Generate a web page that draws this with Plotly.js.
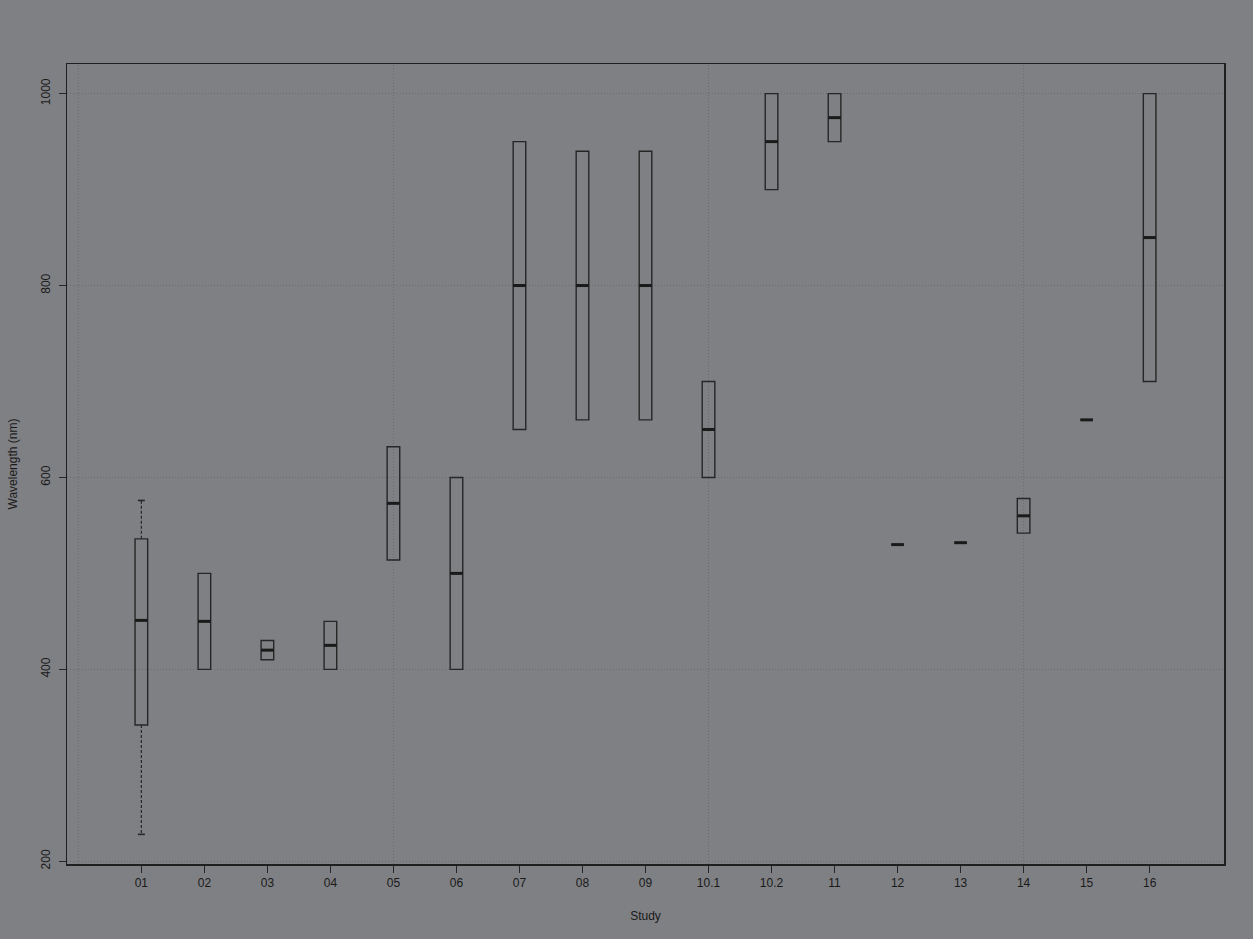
<!DOCTYPE html>
<html>
<head>
<meta charset="utf-8">
<script src="https://cdn.plot.ly/plotly-3.0.1.min.js"></script>
<style>
html,body{margin:0;padding:0;background:#7f8084;}
#chart{width:1253px;height:939px;}
</style>
</head>
<body>
<div id="chart"></div>
<script>
// Study categories
var studies = ["01","02","03","04","05","06","07","08","09","10.1","10.2","11","12","13","14","15","16"];
// Box statistics (nm)
var q1Vals     = [342, 400, 410, 400, 514, 400, 650, 660, 660, 600, 900, 950, 530, 532, 542, 660, 700];
var medianVals = [451, 450, 420, 425, 573, 500, 800, 800, 800, 650, 950, 975, 530, 532, 560, 660, 850];
var q3Vals     = [536, 500, 430, 450, 632, 600, 950, 940, 940, 700, 1000, 1000, 530, 532, 578, 660, 1000];
// Whisker ends (null = no whisker)
var whiskerLow  = [228, null, null, null, null, null, null, null, null, null, null, null, null, null, null, null, null];
var whiskerHigh = [576, null, null, null, null, null, null, null, null, null, null, null, null, null, null, null, null];
// Y tick labels
var yTicks = [200, 400, 600, 800, 1000];

var pos = studies.map(function(_, i){ return i + 1; });
var boxW = 0.2;
var ink = '#262626';
var gridCol = '#6a6b6f';

var traces = [];

// Boxes (whiskers drawn separately as dashed lines)
traces.push({
  type: 'box',
  x: pos,
  q1: q1Vals,
  median: medianVals,
  q3: q3Vals,
  lowerfence: q1Vals,
  upperfence: q3Vals,
  width: boxW,
  fillcolor: 'rgba(0,0,0,0)',
  line: {color: ink, width: 1.4},
  hoverinfo: 'skip',
  showlegend: false
});

// Thick median lines
var mx = [], my = [];
pos.forEach(function(p, i){
  mx.push(p - boxW/2, p + boxW/2, null);
  my.push(medianVals[i], medianVals[i], null);
});
traces.push({
  type: 'scatter', mode: 'lines', x: mx, y: my,
  line: {color: '#1a1a1a', width: 3}, hoverinfo: 'skip', showlegend: false
});

// Dashed whiskers and caps
var wx = [], wy = [], cx = [], cy = [];
var capW = 0.055;
pos.forEach(function(p, i){
  if (whiskerHigh[i] !== null) {
    wx.push(p, p, null); wy.push(q3Vals[i], whiskerHigh[i], null);
    cx.push(p - capW, p + capW, null); cy.push(whiskerHigh[i], whiskerHigh[i], null);
  }
  if (whiskerLow[i] !== null) {
    wx.push(p, p, null); wy.push(q1Vals[i], whiskerLow[i], null);
    cx.push(p - capW, p + capW, null); cy.push(whiskerLow[i], whiskerLow[i], null);
  }
});
traces.push({
  type: 'scatter', mode: 'lines', x: wx, y: wy,
  line: {color: ink, width: 1.2, dash: '3px,2px'}, hoverinfo: 'skip', showlegend: false
});
traces.push({
  type: 'scatter', mode: 'lines', x: cx, y: cy,
  line: {color: ink, width: 1.6}, hoverinfo: 'skip', showlegend: false
});

// Vertical grid lines at the default numeric axis ticks
var gridX = [0, 5, 10, 15];
var shapes = gridX.map(function(g){
  return {type: 'line', xref: 'x', yref: 'paper', x0: g, x1: g, y0: 0, y1: 1,
          layer: 'below', line: {color: gridCol, width: 1, dash: '1px,2px'}};
});

var layout = {
  width: 1253, height: 939,
  paper_bgcolor: '#7f8084',
  plot_bgcolor: '#7f8084',
  margin: {l: 67, r: 29, t: 64, b: 75},
  font: {family: 'Liberation Sans, Arial, sans-serif', color: '#1a1a1a', size: 12},
  shapes: shapes,
  xaxis: {
    range: [-0.18, 18.18],
    tickvals: pos,
    ticktext: studies,
    ticks: 'outside', ticklen: 7, tickwidth: 1.2, tickcolor: ink,
    showgrid: false, zeroline: false,
    showline: true, mirror: true, linecolor: '#1f1f1f', linewidth: 1.5,
    tickfont: {size: 12},
    title: {text: 'Study', font: {size: 12}, standoff: 22},
    automargin: false
  },
  yaxis: {
    range: [197.1, 1030.9],
    tickvals: yTicks,
    ticktext: yTicks.map(String),
    tickangle: -90,
    ticklabelstandoff: 4,
    ticks: 'outside', ticklen: 7, tickwidth: 1.2, tickcolor: ink,
    showgrid: true, gridcolor: gridCol, griddash: '1px,2px', gridwidth: 1,
    zeroline: false,
    showline: true, mirror: true, linecolor: '#1f1f1f', linewidth: 1.5,
    tickfont: {size: 12},
    title: {text: 'Wavelength (nm)', font: {size: 12}, standoff: 18},
    automargin: false
  },
  showlegend: false
};

Plotly.newPlot('chart', traces, layout, {displayModeBar: false, staticPlot: true});
</script>
</body>
</html>
